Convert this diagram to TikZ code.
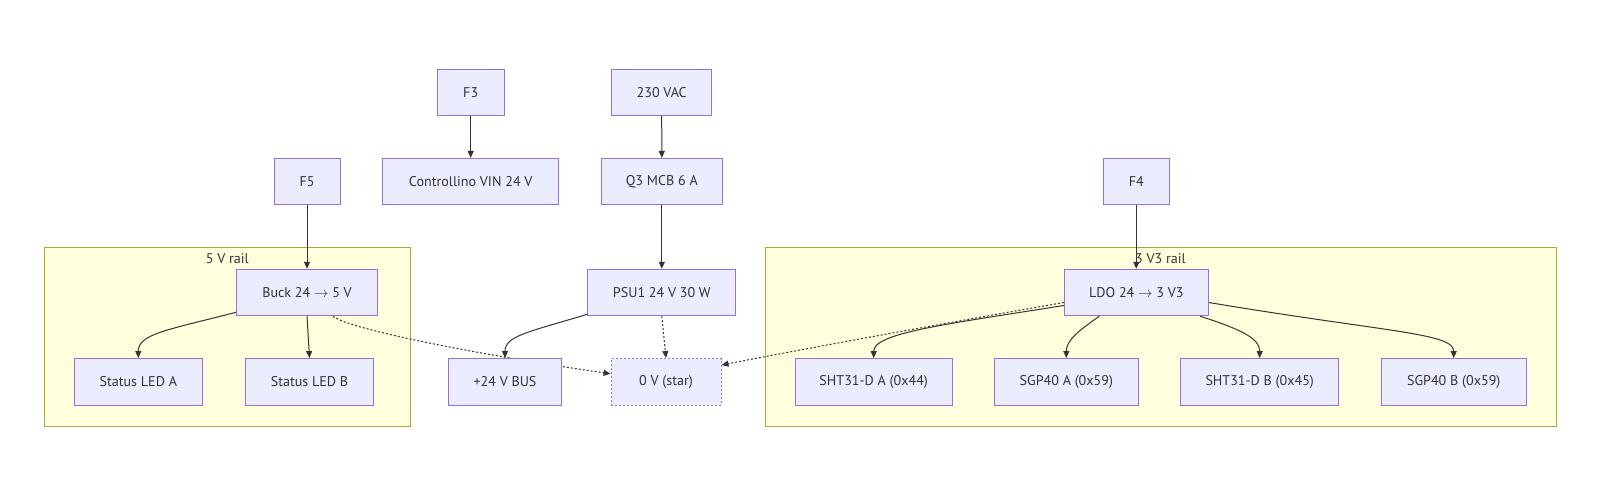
\documentclass[tikz,border=0pt]{standalone}
\usepackage{fontspec}
\setmainfont{PT Sans}
\usetikzlibrary{arrows.meta}
\pgfdeclarelayer{bg}
\pgfdeclarelayer{wires}
\pgfsetlayers{bg,wires,main}
\definecolor{nodefill}{HTML}{ECECFF}
\definecolor{nodeline}{HTML}{9370DB}
\definecolor{railfill}{HTML}{FFFFDE}
\definecolor{railline}{HTML}{AAAA33}
\definecolor{ink}{HTML}{333333}
\begin{document}
\begin{tikzpicture}[x=1pt,y=-1pt,
        box/.style={draw=nodeline,fill=nodefill,line width=1pt,text=ink,minimum height=46.5pt,inner sep=0pt,font=\fontsize{14.1}{17}\selectfont},
        rail/.style={draw=railline,fill=railfill,line width=1pt},
        railname/.style={text=ink,inner sep=0pt,font=\fontsize{14.1}{17}\selectfont},
        wire/.style={draw=ink,line width=1pt,-{Triangle[length=7pt,width=6pt]}},
        ret/.style={wire,dash pattern=on 2pt off 2pt}]
        \useasboundingbox (0,0) rectangle (1621,496);

        % top row
        \node[box,minimum width=66.7pt] (f3) at (470.7,92.3) {F3};
        \node[box,minimum width=100pt] (vac) at (661.7,92.3) {230 VAC};

        \node[box,minimum width=66pt] (f5) at (307,181.7) {F5};
        \node[box,minimum width=176pt] (ctrl) at (470.7,181.7) {Controllino VIN 24 V};
        \node[box,minimum width=121pt] (q3) at (661.8,181.7) {Q3 MCB 6 A};
        \node[box,minimum width=66pt] (f4) at (1136.3,181.7) {F4};

        % converters
        \node[box,minimum width=140.6pt] (buck) at (307,292.5) {Buck 24 $\rightarrow$ 5 V};
        \node[box,minimum width=147.7pt] (psu) at (661.8,292.5) {PSU1 24 V 30 W};
        \node[box,minimum width=144pt] (ldo) at (1136.3,292.5) {LDO 24 $\rightarrow$ 3 V3};

        % loads
        \node[box,minimum width=128pt] (leda) at (138.3,381.8) {Status LED A};
        \node[box,minimum width=128.4pt] (ledb) at (309.5,381.8) {Status LED B};
        \node[box,minimum width=113.4pt] (bus) at (505,381.8) {+24 V BUS};
        \node[box,minimum width=110pt,dash pattern=on 2pt off 2pt] (zero) at (666,381.8) {0 V (star)};
        \node[box,minimum width=156.7pt] (shta) at (873.7,381.8) {SHT31-D A (0x44)};
        \node[box,minimum width=144pt] (sgpa) at (1066.3,381.8) {SGP40 A (0x59)};
        \node[box,minimum width=158pt] (shtb) at (1259.7,381.8) {SHT31-D B (0x45)};
        \node[box,minimum width=144.7pt] (sgpb) at (1453.7,381.8) {SGP40 B (0x59)};

        \begin{pgfonlayer}{bg}
            \draw[rail] (44.3,247.7) rectangle (410,426);
            \node[railname] (fivename) at (227.3,258.3) {5 V rail};
            \draw[rail] (765,247.7) rectangle (1556,426);
            \node[railname] (threename) at (1160.5,258.3) {3 V3 rail};
        \end{pgfonlayer}

        \begin{pgfonlayer}{wires}
            \draw[wire] (f3) -- (ctrl);
            \draw[wire] (vac) -- (q3);
            \draw[wire] (q3) -- (psu);
            \draw[wire] (f5) -- (buck);
            \draw[wire] (f4) -- (ldo);

            \draw[wire] ([yshift=4pt]buck.south west) .. controls +(-70,18) and +(0,-24) .. (leda.north);
            \draw[wire] (buck.south) -- (ledb.north);
            \draw[ret] ([xshift=26pt]buck.south) .. controls +(15,12) and +(-150,-22) .. ([yshift=8pt]zero.west);

            \draw[wire] ([yshift=2pt]psu.south west) .. controls +(-60,18) and +(0,-22) .. (bus.north);
            \draw[ret] (psu.south) -- (zero.north);

            \draw[ret] ([yshift=-10pt]ldo.west) .. controls +(-150,26) and +(40,-8) .. ([yshift=-7pt]zero.north east);
            \draw[wire] ([yshift=-13pt]ldo.west) .. controls +(-120,19) and +(0,-25) .. (shta.north);
            \draw[wire] ([xshift=-37pt]ldo.south) .. controls +(-20,14) and +(0,-18) .. (sgpa.north);
            \draw[wire] ([xshift=64pt]ldo.south) .. controls +(40,13) and +(0,-20) .. (shtb.north);
            \draw[wire] ([yshift=-10pt]ldo.east) .. controls +(180,30) and +(0,-25) .. (sgpb.north);
        \end{pgfonlayer}
    \end{tikzpicture}
\end{document}
